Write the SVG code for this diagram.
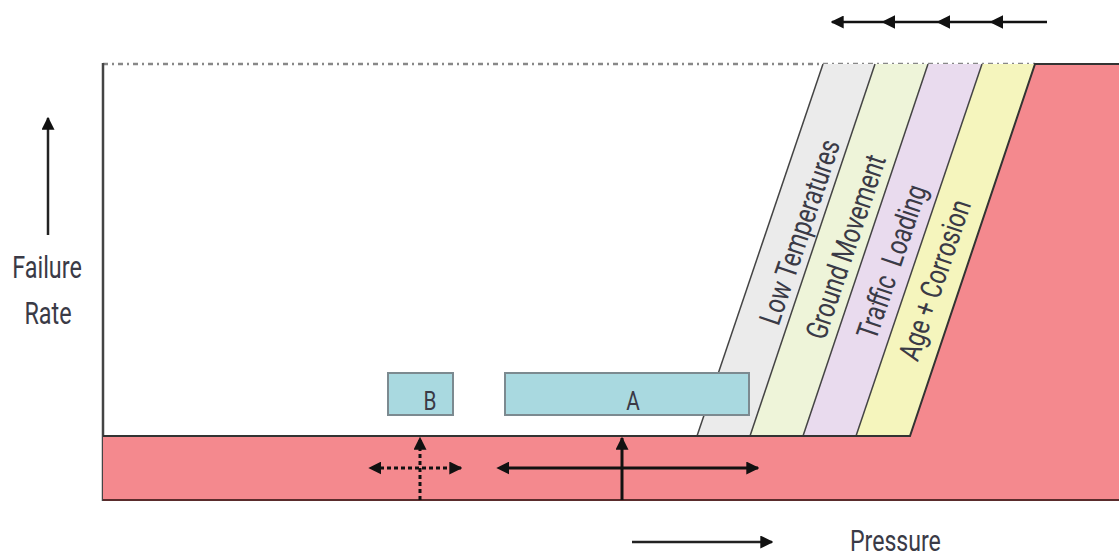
<svg xmlns="http://www.w3.org/2000/svg" width="1119" height="558" viewBox="0 0 1119 558">
<style>
.lbl{font-family:"Roboto","Liberation Sans",sans-serif;fill:#3a3a46;}
.band-edge{stroke:#444;stroke-width:1.5;fill:none;}
.box{fill:#a9d9e0;stroke:#7c8a90;stroke-width:2;}
.arr{stroke:#111;stroke-width:3;fill:none;}
.dot{stroke:#111;stroke-width:3;fill:none;stroke-dasharray:4 3;}
</style>
<defs>
<marker id="ah" viewBox="0 0 10 10" refX="9" refY="5" markerWidth="13" markerHeight="13" markerUnits="userSpaceOnUse" orient="auto">
<path d="M0,0 L10,5 L0,10 z" fill="#111"/>
</marker>
<marker id="ahs" viewBox="0 0 10 10" refX="1" refY="5" markerWidth="13" markerHeight="13" markerUnits="userSpaceOnUse" orient="auto-start-reverse">
<path d="M0,0 L10,5 L0,10 z" fill="#111"/>
</marker>
<marker id="ahm" viewBox="0 0 10 10" refX="6" refY="5" markerWidth="14" markerHeight="14" markerUnits="userSpaceOnUse" orient="auto">
<path d="M0,0 L10,5 L0,10 z" fill="#111"/>
</marker>
</defs>
<rect width="1119" height="558" fill="#ffffff"/>

<g id="frame">
<line x1="103" y1="64" x2="1035" y2="64" stroke="#888" stroke-width="2.5" stroke-dasharray="5 4 2 4"/>
<line x1="103" y1="63" x2="103" y2="501" stroke="#444" stroke-width="2.5"/>
</g>

<g id="band-low-temperatures">
<polygon points="823,64 875,64 750,436 697,436" fill="#ebebeb"/>
<line class="band-edge" x1="823" y1="64" x2="697" y2="436"/>
<text class="lbl" font-size="30" text-anchor="middle" transform="translate(800,232) rotate(-71.3) scale(0.78,1)" x="0" y="10">Low Temperatures</text>
</g>
<g id="band-ground-movement">
<polygon points="875,64 928,64 803,436 750,436" fill="#eef4d9"/>
<line class="band-edge" x1="875" y1="64" x2="750" y2="436"/>
<text class="lbl" font-size="30" text-anchor="middle" transform="translate(846,247) rotate(-71.3) scale(0.78,1)" x="0" y="10">Ground Movement</text>
</g>
<g id="band-traffic-loading">
<polygon points="928,64 982,64 856,436 803,436" fill="#e9dbee"/>
<line class="band-edge" x1="928" y1="64" x2="803" y2="436"/>
<text class="lbl" font-size="30" text-anchor="middle" transform="translate(892,262) rotate(-71.3) scale(0.78,1)" x="0" y="10" xml:space="preserve">Traffic  Loading</text>
</g>
<g id="band-age-corrosion">
<polygon points="982,64 1035,64 910,436 856,436" fill="#f5f5bd"/>
<line class="band-edge" x1="982" y1="64" x2="856" y2="436"/>
<text class="lbl" font-size="30" text-anchor="middle" transform="translate(935,280) rotate(-71.3) scale(0.78,1)" x="0" y="10">Age + Corrosion</text>
</g>

<g id="red-region">
<polygon points="1035,64 1119,64 1119,500 103,500 103,436 910,436" fill="#f4898e"/>
<polyline points="103,436 910,436 1035,64 1119,64" fill="none" stroke="#333" stroke-width="2"/>
<line x1="103" y1="500" x2="1119" y2="500" stroke="#5a2c2c" stroke-width="2"/>
</g>

<g id="box-b">
<rect class="box" x="388" y="373" width="65" height="42"/>
<text class="lbl" font-size="26" text-anchor="middle" transform="translate(430,410) scale(0.8,1)">B</text>
</g>
<g id="box-a">
<rect class="box" x="505" y="373" width="244" height="42"/>
<text class="lbl" font-size="26" text-anchor="middle" transform="translate(633,410) scale(0.8,1)">A</text>
</g>

<g id="axis-labels">
<text class="lbl" font-size="32" text-anchor="middle" transform="translate(47,278) scale(0.73,1)">Failure</text>
<text class="lbl" font-size="32" text-anchor="middle" transform="translate(48,324) scale(0.73,1)">Rate</text>
<text class="lbl" font-size="30" transform="translate(850,551) scale(0.77,1)">Pressure</text>
</g>

<g id="connectors">
<line x1="48" y1="235" x2="48" y2="118" stroke="#222" stroke-width="2.5" marker-end="url(#ah)"/>
<line x1="632" y1="542" x2="772" y2="542" stroke="#222" stroke-width="2.5" marker-end="url(#ah)"/>
<path d="M1047,22 L995,22 L942,22 L887,22 L832,22" stroke="#111" stroke-width="2.5" fill="none" marker-mid="url(#ahm)" marker-end="url(#ah)"/>
<line class="arr" x1="622" y1="500" x2="622" y2="438" marker-end="url(#ah)"/>
<line class="arr" x1="508" y1="468" x2="758" y2="468" marker-start="url(#ahs)" marker-end="url(#ah)"/>
<line class="dot" x1="420" y1="500" x2="420" y2="438" marker-end="url(#ah)"/>
<line class="dot" x1="380" y1="468" x2="461" y2="468" marker-start="url(#ahs)" marker-end="url(#ah)"/>
</g>
</svg>
